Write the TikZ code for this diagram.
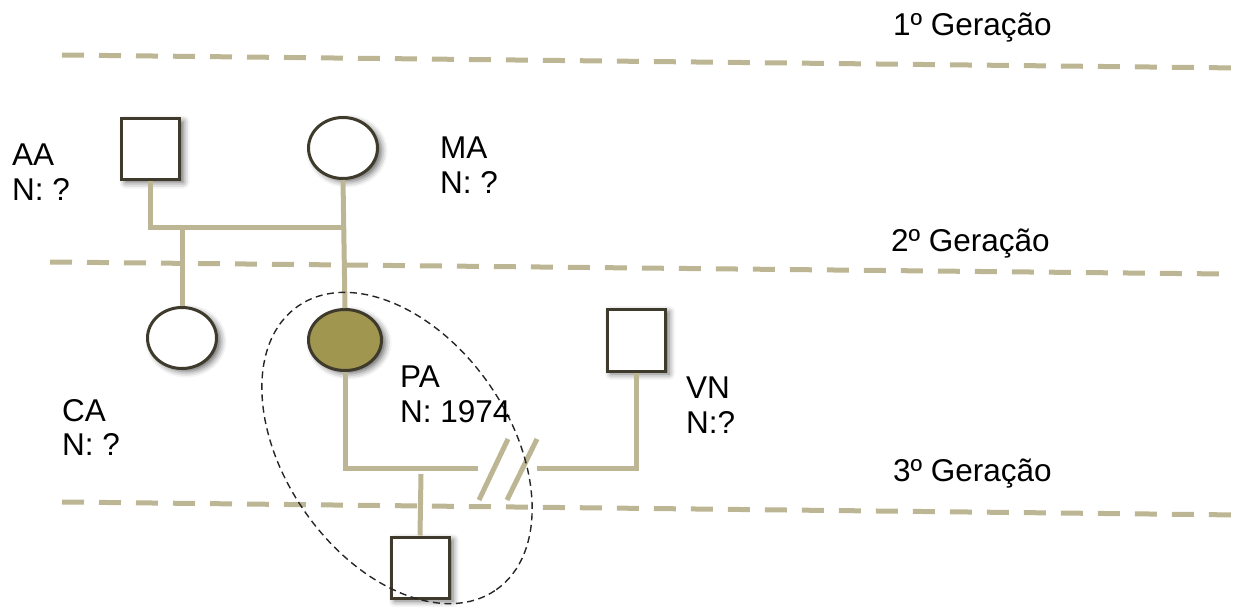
\documentclass[tikz,border=0pt]{standalone}
\usepackage{fontspec}
\setmainfont{Liberation Sans}
\usetikzlibrary{shapes.geometric,shadows.blur}
\definecolor{tan}{RGB}{189,182,148}
\definecolor{olive}{RGB}{160,150,80}
\definecolor{edge}{RGB}{62,58,44}
\tikzset{
  person/.style={draw=edge, line width=3pt, fill=white, inner sep=0pt,
    blur shadow={shadow xshift=4pt, shadow yshift=-3pt, shadow blur radius=6pt, shadow opacity=60}},
  male/.style={person, rectangle, minimum width=58pt, minimum height=61pt},
  female/.style={person, ellipse, minimum width=69pt, minimum height=61pt},
  conn/.style={draw=tan, line width=5pt},
  gen/.style={draw=tan, line width=5pt, dash pattern=on 22pt off 15pt},
  lbl/.style={anchor=base west, inner sep=0pt, font=\fontsize{31.5}{36}\selectfont},
  group/.style={draw=black!85, line width=1.4pt, dash pattern=on 7pt off 4.5pt}
}
\begin{document}
\begin{tikzpicture}[x=1pt, y=-1pt]
\useasboundingbox (0,0) rectangle (1246,607);
% generation lines
\coordinate (g1a) at (62,55);  \coordinate (g1b) at (1240,68);
\coordinate (g2a) at (50,262); \coordinate (g2b) at (1226,274);
\coordinate (g3a) at (62,502); \coordinate (g3b) at (1240,515);
\draw[gen] (g1a) -- (g1b);
\draw[gen] (g2a) -- (g2b);
\draw[gen] (g3a) -- (g3b);
% persons
\node[male]   (aa) at (150.5,149) {};
\node[female] (ma) at (343,148) {};
\node[female] (ca) at (182,338) {};
\node[female, fill=olive, minimum width=73pt] (pa) at (345,340) {};
\node[male, minimum height=62pt] (vn) at (636,340) {};
\node[male] (ch) at (420,567.5) {};
% connectors
\coordinate (m1) at (345,227);
\coordinate (b1) at (478,468);
\coordinate (b2) at (537,468);
\coordinate (c1) at (421,474);
\coordinate (s1a) at (479,500); \coordinate (s1b) at (508,439);
\coordinate (s2a) at (507,500); \coordinate (s2b) at (537,439);
\draw[conn] (aa.south) |- (m1);
\draw[conn] (ma.south) -- (pa.north);
\draw[conn] (ca.north |- m1) -- (ca.north);
\draw[conn] (pa.south) |- (b1);
\draw[conn] (b2) -| (vn.south);
\draw[conn] (s1a) -- (s1b);
\draw[conn] (s2a) -- (s2b);
\draw[conn] (c1) -- (ch.north);
% group ellipse
\coordinate (gc) at (397,448);
\draw[group, rotate around={-55:(gc)}] (gc) ellipse [x radius=173pt, y radius=112pt];
% labels
\node[lbl] (t1) at (893,36) {1º Geração};
\node[lbl] (t2) at (891,251) {2º Geração};
\node[lbl] (t3) at (893,481) {3º Geração};
\node[lbl] (aa1) at (12,165) {AA};
\node[lbl] (aa2) at (12,200) {N: ?};
\node[lbl] (ma1) at (440,158) {MA};
\node[lbl] (ma2) at (440,193) {N: ?};
\node[lbl] (ca1) at (62,421) {CA};
\node[lbl] (ca2) at (62,455) {N: ?};
\node[lbl] (pa1) at (400,387) {PA};
\node[lbl] (pa2) at (400,422) {N: 1974};
\node[lbl] (vn1) at (686,398) {VN};
\node[lbl] (vn2) at (686,433) {N:?};
\end{tikzpicture}
\end{document}
